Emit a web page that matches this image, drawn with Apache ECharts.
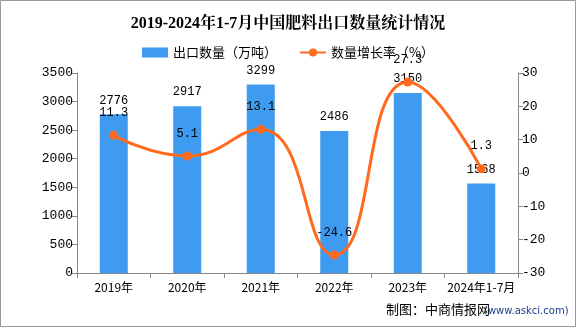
<!DOCTYPE html>
<html><head><meta charset="utf-8">
<script src="https://cdn.jsdelivr.net/npm/echarts@6/dist/echarts.min.js"></script>
<style>html,body{margin:0;padding:0;background:#fff}#c{width:576px;height:327px}</style>
</head><body><div id="c"></div>
<script>
const categories = ['2019年','2020年','2021年','2022年','2023年','2024年1-7月'];
const exportVolume = [2776, 2917, 3299, 2486, 3150, 1568];
const growthRate = [11.3, 5.1, 13.1, -24.6, 27.3, 1.3];
const leftTicks = {min: 0, max: 3500, interval: 500};
const rightTicks = {min: -30, max: 30, interval: 10};

const chart = echarts.init(document.getElementById('c'));
const labelFont = 'Liberation Mono, DejaVu Sans Mono, monospace';
const cjk = '"Noto Sans CJK SC", sans-serif';
chart.setOption({
  animation: false,
  title: {
    text: '2019-2024年1-7月中国肥料出口数量统计情况',
    left: 'center', top: 11,
    textStyle: {fontSize: 16, fontWeight: 'bold', color: '#000', fontFamily: '"Liberation Serif", "Noto Serif CJK SC", "Noto Sans CJK SC", serif'}
  },
  legend: {
    top: 41, left: 'center', itemGap: 22, itemWidth: 26, itemHeight: 10,
    textStyle: {fontSize: 13, color: '#000', fontFamily: cjk},
    data: [
      {name: '出口数量（万吨）', icon: 'rect'},
      {name: '数量增长率（%）'}
    ]
  },
  grid: {left: 77, right: 58, top: 73, bottom: 54},
  xAxis: {
    type: 'category', data: categories,
    axisLine: {lineStyle: {color: '#888'}},
    axisTick: {show: true, length: 5, lineStyle: {color: '#888'}},
    axisLabel: {color: '#000', fontSize: 12, fontFamily: cjk, margin: 8, interval: 0}
  },
  yAxis: [
    {type: 'value', min: leftTicks.min, max: leftTicks.max, interval: leftTicks.interval,
     axisLine: {show: true, lineStyle: {color: '#888'}},
     axisTick: {show: true, length: 5, lineStyle: {color: '#888'}},
     splitLine: {show: false},
     axisLabel: {color: '#000', fontSize: 13, fontFamily: labelFont, margin: 4, formatter: v => String(v)}},
    {type: 'value', min: rightTicks.min, max: rightTicks.max, interval: rightTicks.interval,
     axisLine: {show: true, lineStyle: {color: '#888'}},
     axisTick: {show: true, length: 5, lineStyle: {color: '#888'}},
     splitLine: {show: false},
     axisLabel: {color: '#000', fontSize: 13, fontFamily: labelFont, margin: 4, formatter: v => String(v)}}
  ],
  series: [
    {name: '出口数量（万吨）', type: 'bar', data: exportVolume, barWidth: 28,
     itemStyle: {color: '#3E9BEF'},
     label: {show: true, position: 'top', distance: 8, color: '#000', fontSize: 12, fontFamily: labelFont}},
    {name: '数量增长率（%）', type: 'line', yAxisIndex: 1, data: growthRate, smooth: true,
     symbol: 'circle', symbolSize: 9,
     lineStyle: {color: '#FF6A1F', width: 3},
     itemStyle: {color: '#FF6A1F'},
     label: {show: true, position: 'top', distance: 12, color: '#000', fontSize: 12, fontFamily: labelFont}}
  ],
  graphic: [
    {type: 'rect', shape: {x: 0.5, y: 0.5, width: 575, height: 326}, style: {fill: 'none', stroke: '#999', lineWidth: 1}, silent: true},
    {type: 'text', left: 386, top: 303, style: {text: '制图：中商情报网', fontSize: 13, fill: '#000', fontFamily: cjk}},
    {type: 'text', left: 484, top: 306, style: {text: '(www.askci.com)', fontSize: 10, fill: '#1a3d8f', fontFamily: '"DejaVu Sans", sans-serif'}}
  ]
});
</script></body></html>
